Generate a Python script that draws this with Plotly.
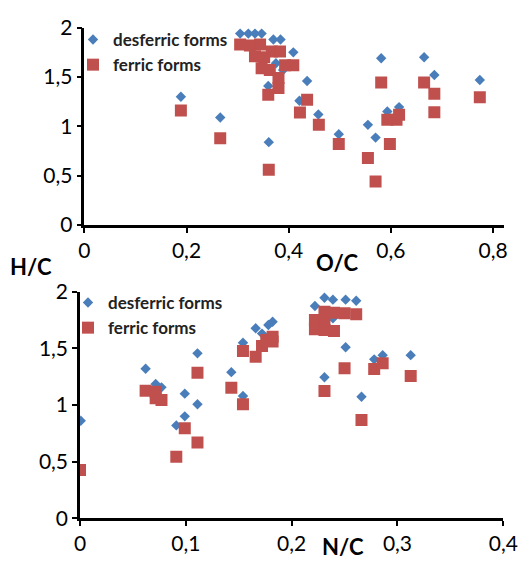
import plotly.graph_objects as go

# ---- Top panel: H/C vs O/C ----
oc_desferric = [0.189, 0.266, 0.361, 0.360, 0.305, 0.321, 0.334, 0.347, 0.370, 0.384,
                0.409, 0.436, 0.421, 0.458, 0.375, 0.389, 0.498, 0.555, 0.570, 0.581,
                0.593, 0.616, 0.665, 0.685, 0.774]
hc_desferric = [1.30, 1.09, 0.84, 1.41, 1.94, 1.94, 1.94, 1.94, 1.88, 1.88,
                1.75, 1.46, 1.26, 1.12, 1.64, 1.57, 0.92, 1.015, 0.886, 1.69,
                1.15, 1.195, 1.70, 1.52, 1.47]

oc_ferric = [0.189, 0.266, 0.361, 0.360, 0.305, 0.324, 0.344, 0.334, 0.352, 0.367,
             0.383, 0.347, 0.363, 0.393, 0.409, 0.380, 0.380, 0.436, 0.422, 0.459,
             0.498, 0.555, 0.570, 0.581, 0.593, 0.598, 0.616, 0.611, 0.665, 0.685,
             0.685, 0.774]
hc_ferric = [1.16, 0.88, 0.56, 1.32, 1.83, 1.82, 1.83, 1.71, 1.70, 1.76,
             1.76, 1.59, 1.57, 1.62, 1.62, 1.49, 1.39, 1.27, 1.14, 1.015,
             0.82, 0.68, 0.44, 1.445, 1.066, 0.82, 1.117, 1.066, 1.445, 1.33,
             1.144, 1.296]

# ---- Bottom panel: H/C vs N/C ----
nc_desferric = [0.0007, 0.062, 0.0715, 0.077, 0.091, 0.099, 0.099, 0.111, 0.111, 0.143,
                0.154, 0.154, 0.166, 0.172, 0.178, 0.182, 0.222, 0.231, 0.239, 0.251,
                0.261, 0.239, 0.231, 0.251, 0.266, 0.278, 0.286, 0.3125]
hc2_desferric = [0.861, 1.32, 1.185, 1.156, 0.82, 1.10, 0.90, 1.456, 1.006, 1.29,
                 1.55, 1.08, 1.677, 1.63, 1.706, 1.735, 1.874, 1.947, 1.93, 1.93,
                 1.92, 1.765, 1.245, 1.51, 1.073, 1.403, 1.44, 1.44]

nc_ferric = [0.0, 0.062, 0.0715, 0.0715, 0.077, 0.091, 0.099, 0.111, 0.111, 0.143,
             0.154, 0.154, 0.166, 0.172, 0.176, 0.182, 0.182, 0.222, 0.222, 0.231,
             0.231, 0.231, 0.240, 0.240, 0.250, 0.261, 0.231, 0.250, 0.266, 0.278,
             0.286, 0.3125]
hc2_ferric = [0.426, 1.126, 1.117, 1.06, 1.044, 0.544, 0.794, 0.67, 1.285, 1.153,
              1.477, 1.006, 1.426, 1.52, 1.574, 1.603, 1.56, 1.75, 1.668, 1.824,
              1.735, 1.662, 1.815, 1.653, 1.81, 1.80, 1.124, 1.324, 0.868, 1.318,
              1.368, 1.256]

# tick labels (comma decimal)
y_tickvals = [0, 0.5, 1, 1.5, 2]
y_ticktext = ["0", "0,5", "1", "1,5", "2"]
x1_tickvals = [0, 0.2, 0.4, 0.6, 0.8]
x1_ticktext = ["0", "0,2", "0,4", "0,6", "0,8"]
x2_tickvals = [0, 0.1, 0.2, 0.3, 0.4]
x2_ticktext = ["0", "0,1", "0,2", "0,3", "0,4"]

BLUE = "#4A7EBB"
RED = "#C0504D"
W, H = 527, 565
FONT = "Lato"

fig = go.Figure()
fig.add_trace(go.Scatter(x=oc_desferric, y=hc_desferric, mode="markers", name="desferric forms",
                         marker=dict(symbol="diamond", size=8, color=BLUE),
                         xaxis="x", yaxis="y", legend="legend"))
fig.add_trace(go.Scatter(x=oc_ferric, y=hc_ferric, mode="markers", name="ferric forms",
                         marker=dict(symbol="square", size=12, color=RED),
                         xaxis="x", yaxis="y", legend="legend"))
fig.add_trace(go.Scatter(x=nc_desferric, y=hc2_desferric, mode="markers", name="desferric forms",
                         marker=dict(symbol="diamond", size=8, color=BLUE),
                         xaxis="x2", yaxis="y2", legend="legend2"))
fig.add_trace(go.Scatter(x=nc_ferric, y=hc2_ferric, mode="markers", name="ferric forms",
                         marker=dict(symbol="square", size=12, color=RED),
                         xaxis="x2", yaxis="y2", legend="legend2"))

axis_common = dict(showgrid=False, zeroline=False, showline=True, linecolor="black", linewidth=2.5,
                   ticks="outside", ticklen=5, tickwidth=2, tickcolor="black", automargin=False,
                   tickfont=dict(family=FONT, size=21, color="black"))


def px_x(p):
    return p / W


def px_y(p):
    return 1 - p / H


title_font = dict(family=FONT, size=22, color="black")

fig.update_layout(
    width=W, height=H,
    margin=dict(l=0, r=0, t=0, b=0, pad=0, autoexpand=False),
    paper_bgcolor="white", plot_bgcolor="white",
    xaxis=dict(domain=[px_x(84.3), px_x(504)], range=[0, (504 - 84.3) / 511],
               tickvals=x1_tickvals, ticktext=x1_ticktext, anchor="y", **axis_common),
    yaxis=dict(domain=[px_y(225), px_y(27.7)], range=[0, 2],
               tickvals=y_tickvals, ticktext=y_ticktext, anchor="x", **axis_common),
    xaxis2=dict(domain=[px_x(80), px_x(503.3)], range=[0, 0.4],
                tickvals=x2_tickvals, ticktext=x2_ticktext, anchor="y2", **axis_common),
    yaxis2=dict(domain=[px_y(518.3), px_y(291.7)], range=[0, 2],
                tickvals=y_tickvals, ticktext=y_ticktext, anchor="x2", **axis_common),
    legend=dict(x=px_x(73), y=px_y(22), xanchor="left", yanchor="top",
                bgcolor="rgba(0,0,0,0)", tracegroupgap=0,
                font=dict(family=FONT, size=17, color="#222222", weight="bold")),
    legend2=dict(x=px_x(68), y=px_y(285), xanchor="left", yanchor="top",
                 bgcolor="rgba(0,0,0,0)", tracegroupgap=0,
                 font=dict(family=FONT, size=17, color="#222222", weight="bold")),
    showlegend=True,
    annotations=[
        dict(text="<b>H/C</b>", x=px_x(31), y=px_y(266), xref="paper", yref="paper",
             xanchor="center", yanchor="middle", showarrow=False, font=title_font),
        dict(text="<b>O/C</b>", x=px_x(337), y=px_y(262), xref="paper", yref="paper",
             xanchor="center", yanchor="middle", showarrow=False, font=title_font),
        dict(text="<b>N/C</b>", x=px_x(343), y=px_y(546), xref="paper", yref="paper",
             xanchor="center", yanchor="middle", showarrow=False, font=title_font),
    ],
)

fig.write_html("out.html", config={"displayModeBar": False},
               post_script="document.body.style.margin='0';document.body.style.overflow='hidden';")
